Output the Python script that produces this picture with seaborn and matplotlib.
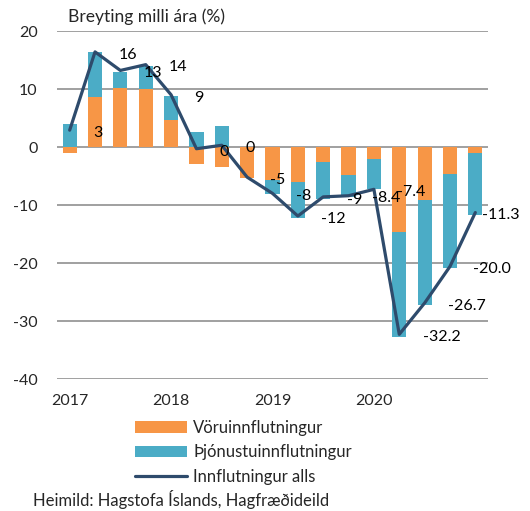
import matplotlib
matplotlib.use("Agg")
import matplotlib.pyplot as plt
import seaborn as sns
import pandas as pd
import numpy as np
from matplotlib.patches import Patch
from matplotlib.lines import Line2D

quarters = ["2017Q1", "2017Q2", "2017Q3", "2017Q4",
            "2018Q1", "2018Q2", "2018Q3", "2018Q4",
            "2019Q1", "2019Q2", "2019Q3", "2019Q4",
            "2020Q1", "2020Q2", "2020Q3", "2020Q4", "2021Q1"]
voru = [-1.0, 8.6, 10.1, 9.95, 4.6, -3.0, -3.5, -5.3, -5.65, -5.95,
        -2.5, -4.75, -2.0, -14.7, -9.1, -4.7, -1.0]
thjonustu = [4.05, 7.7, 2.8, 4.1, 4.2, 2.6, 3.7, 0.0, -2.4, -6.3,
             -6.5, -3.9, -5.3, -18.0, -18.2, -16.1, -10.7]
alls = [2.9, 16.4, 13.2, 14.2, 9.0, -0.3, 0.3, -5.2, -8.0, -11.9,
        -8.6, -8.4, -7.3, -32.3, -26.9, -20.6, -11.3]
alls_labels = ["3", "16", "13", "14", "9", "0", "0", "-5", "-8", "-12",
               "-9", "-8.4", "-7.4", "-32.2", "-26.7", "-20.0", "-11.3"]
year_ticks = ["2017", "2018", "2019", "2020"]
yticks = [20, 10, 0, -10, -20, -30, -40]

series_names = ["Vöruinnflutningur", "Þjónustuinnflutningur", "Innflutningur alls"]
ORANGE = "#F79646"
TEAL = "#4BACC6"
NAVY = "#2E4B6C"

sns.set_style("white")
plt.rcParams["font.family"] = ["Lato", "DejaVu Sans"]
FS = 11.5
FS_TXT = 12

pos = list(range(len(quarters)))
v = np.array(voru)
t = np.array(thjonustu)
same = np.sign(v) == np.sign(t)
teal_top = np.where(same, v + t, t)

df = pd.DataFrame({"pos": pos, "voru": voru, "teal_top": teal_top, "alls": alls})

fig = plt.figure(figsize=(5.30, 5.11), dpi=100)
ax = fig.add_axes([57 / 530, 1 - 379 / 511, (488 - 57) / 530, (379 - 31) / 511])

for yt in yticks:
    ax.axhline(yt, color="#A0A0A0", lw=1.4, zorder=0)

sns.barplot(data=df, x="pos", y="teal_top", color=TEAL, saturation=1,
            width=0.56, ax=ax, zorder=2, linewidth=0)
sns.barplot(data=df, x="pos", y="voru", color=ORANGE, saturation=1,
            width=0.56, ax=ax, zorder=3, linewidth=0)
sns.lineplot(data=df, x="pos", y="alls", color=NAVY, lw=2.3, ax=ax,
             zorder=4, sort=False)

for i, (val, lab) in enumerate(zip(alls, alls_labels)):
    x = i + 0.92 if i < len(alls) - 1 else i + 0.28
    ax.annotate(lab, (x, val), xytext=(0, -2), textcoords="offset points",
                ha="left", va="center", fontsize=FS, color="black",
                zorder=5, annotation_clip=False)

ax.set_xlim(-0.5, len(quarters) - 0.5)
ax.set_ylim(-40, 20)
ax.set_yticks(yticks)
ax.set_yticklabels([str(y) for y in yticks], fontsize=FS)
ax.set_xticks([0, 4, 8, 12])
ax.set_xticklabels(year_ticks, fontsize=FS)
ax.tick_params(axis="y", length=0, pad=14)
ax.tick_params(axis="x", length=0, pad=10.5)
ax.set_xlabel("")
ax.set_ylabel("")
for s in ax.spines.values():
    s.set_visible(False)

fig.text(68 / 530, 1 - 17 / 511, "Breyting milli ára (%)", fontsize=12.6,
         va="center", ha="left")

handles = [Patch(facecolor=ORANGE, edgecolor="none"),
           Patch(facecolor=TEAL, edgecolor="none"),
           Line2D([0], [0], color=NAVY, lw=2.3)]
fig.legend(handles, series_names, loc="upper left",
           bbox_to_anchor=(135 / 530, 1 - 420 / 511), frameon=False,
           fontsize=FS_TXT, handlelength=3.1, handleheight=0.7,
           handletextpad=0.4, labelspacing=0.5, borderpad=0,
           borderaxespad=0)

fig.text(33 / 530, 1 - 499 / 511, "Heimild: Hagstofa Íslands, Hagfræðideild",
         fontsize=FS_TXT, va="center", ha="left")

fig.savefig("out.png", dpi=100)
